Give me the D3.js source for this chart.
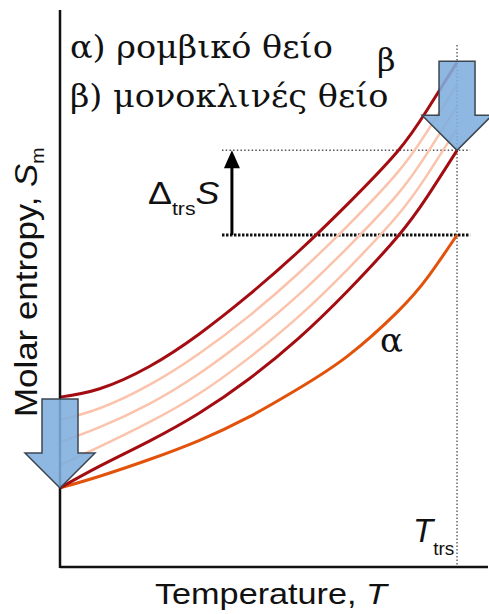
<!DOCTYPE html>
<html>
<head>
<meta charset="utf-8">
<script src="https://cdn.jsdelivr.net/npm/d3@7"></script>
<style>
  body { margin: 0; background: #fff; }
  svg { display: block; }
</style>
</head>
<body>
<svg id="svg" width="489" height="614"></svg>
<script>
// temperature points (T_trs = 100) shared by all curves
var temps = [0, 10, 22.5, 35, 47.5, 60, 72.5, 85, 92.5, 100];
// molar entropy of the two phases
var betaUpper = [30.5, 32.0, 36.0, 41.8, 48.8, 56.6, 65.2, 74.6, 82.1, 90.6];
var betaLight1 = [26.4, 28.5, 32.7, 38.3, 45.0, 52.7, 61.3, 70.8, 78.2, 86.6];
var betaLight2 = [22.4, 25.1, 29.3, 34.7, 41.3, 48.8, 57.4, 66.9, 74.3, 82.7];
var betaLight3 = [18.3, 21.6, 26.0, 31.1, 37.5, 44.9, 53.5, 63.1, 70.4, 78.7];
var betaLower = [14.2, 18.1, 22.6, 27.6, 33.7, 41.0, 49.6, 59.3, 66.5, 74.8];
var alphaS = [14.2, 16.3, 19.3, 22.7, 26.9, 32.0, 37.9, 45.8, 51.9, 59.6];

var legendLines = ["α) ρομβικό θείο", "β) μονοκλινές θείο"];
var tTrs = 100;

var sans = "'Liberation Sans', Arial, sans-serif";
var serif = "'DejaVu Serif', serif";

var svg = d3.select("#svg");

var xScale = d3.scaleLinear().domain([0, 107.8]).range([60, 488]);
var yScale = d3.scaleLinear().domain([0, 100]).range([567, 10]);

function pts(vals) {
  return vals.map(function (v, i) { return [temps[i], v]; });
}

var line = d3.line()
  .x(function (d) { return xScale(d[0]); })
  .y(function (d) { return yScale(d[1]); })
  .curve(d3.curveNatural);

// dotted guide lines
var sHigh = betaLower[betaLower.length - 1];
var sLow = alphaS[alphaS.length - 1];

svg.append("line")
  .attr("x1", xScale(tTrs)).attr("x2", xScale(tTrs))
  .attr("y1", yScale(93.7)).attr("y2", yScale(0))
  .attr("stroke", "#666").attr("stroke-width", 1.5)
  .attr("stroke-dasharray", "1.5,2");

svg.append("line")
  .attr("x1", xScale(40.8)).attr("x2", xScale(103.3))
  .attr("y1", yScale(sHigh)).attr("y2", yScale(sHigh))
  .attr("stroke", "#555").attr("stroke-width", 1.5)
  .attr("stroke-dasharray", "1.5,2.2");

svg.append("line")
  .attr("x1", xScale(40.8)).attr("x2", xScale(103.3))
  .attr("y1", yScale(sLow)).attr("y2", yScale(sLow))
  .attr("stroke", "#111").attr("stroke-width", 3)
  .attr("stroke-dasharray", "2.5,1.5");

// curves
var lightCurves = [betaLight1, betaLight2, betaLight3];
svg.append("g").selectAll("path")
  .data(lightCurves)
  .enter()
  .append("path")
  .attr("d", function (d) { return line(pts(d)); })
  .attr("fill", "none")
  .attr("stroke", "#fbc3ab")
  .attr("stroke-width", 2.5);

svg.append("path")
  .attr("d", line(pts(alphaS)))
  .attr("fill", "none")
  .attr("stroke", "#e2520a")
  .attr("stroke-width", 3);

svg.append("g").selectAll("path")
  .data([betaUpper, betaLower])
  .enter()
  .append("path")
  .attr("d", function (d) { return line(pts(d)); })
  .attr("fill", "none")
  .attr("stroke", "#a30d12")
  .attr("stroke-width", 3);

// axes
svg.append("line")
  .attr("x1", xScale(0)).attr("x2", xScale(0))
  .attr("y1", yScale(100)).attr("y2", yScale(0) + 1)
  .attr("stroke", "#111").attr("stroke-width", 2.5);
svg.append("line")
  .attr("x1", xScale(0)).attr("x2", xScale(107.8))
  .attr("y1", yScale(0)).attr("y2", yScale(0))
  .attr("stroke", "#111").attr("stroke-width", 2.5);

// block arrows (tip at the given point)
function blockArrow(tx, ty) {
  var shaft = 18, head = 35, len = 89, headLen = 35;
  var p = [
    [tx - shaft, ty - len], [tx + shaft, ty - len], [tx + shaft, ty - headLen],
    [tx + head, ty - headLen], [tx, ty], [tx - head, ty - headLen],
    [tx - shaft, ty - headLen]
  ];
  svg.append("path")
    .attr("d", "M" + p.join("L") + "Z")
    .attr("fill", "#7eaedd")
    .attr("fill-opacity", 0.88)
    .attr("stroke", "#3d4650")
    .attr("stroke-width", 1.5);
}
blockArrow(xScale(0), yScale(betaLower[0]));
blockArrow(xScale(tTrs), yScale(sHigh));

// delta S arrow
var ax = xScale(43.3);
svg.append("line")
  .attr("x1", ax).attr("x2", ax)
  .attr("y1", yScale(sLow)).attr("y2", yScale(sHigh) + 14)
  .attr("stroke", "#000").attr("stroke-width", 3);
svg.append("path")
  .attr("d", "M" + ax + "," + yScale(sHigh) + "L" + (ax + 8) + "," + (yScale(sHigh) + 18) +
    "L" + (ax - 8) + "," + (yScale(sHigh) + 18) + "Z")
  .attr("fill", "#000");

// the source art is a little wider than the fonts, so text gets a scaleX
var dS = svg.append("text")
  .style("font-family", sans)
  .attr("transform", "translate(148,204) scale(1.12,1)")
  .attr("font-size", 32).attr("fill", "#111");
dS.append("tspan").text("Δ");
dS.append("tspan").attr("font-size", 19).attr("dy", 11).text("trs");
dS.append("tspan").attr("font-style", "italic").attr("dy", -11).text("S");

// legend text
svg.append("g").selectAll("text")
  .data(legendLines)
  .enter()
  .append("text")
  .style("font-family", serif)
  .attr("transform", function (d, i) {
    return "translate(70," + (58 + i * 49) + ") scale(1.08,1)";
  })
  .attr("font-size", 31)
  .attr("fill", "#111")
  .text(function (d) { return d; });

svg.append("text")
  .style("font-family", serif)
  .attr("x", 377).attr("y", 71)
  .attr("font-size", 32).attr("fill", "#111")
  .text("β");
svg.append("text")
  .style("font-family", serif)
  .attr("x", 380).attr("y", 352)
  .attr("font-size", 34).attr("fill", "#111")
  .text("α");

// T_trs label
var tt = svg.append("text")
  .style("font-family", sans)
  .attr("x", 413).attr("y", 542)
  .attr("font-size", 33).attr("fill", "#111");
tt.append("tspan").attr("font-style", "italic").text("T");
tt.append("tspan").attr("font-size", 19).attr("dy", 13).text("trs");

// axis titles
var xt = svg.append("text")
  .style("font-family", sans)
  .attr("transform", "translate(155,604) scale(1.18,1)")
  .attr("font-size", 29).attr("fill", "#111");
xt.append("tspan").text("Temperature, ");
xt.append("tspan").attr("font-style", "italic").text("T");

var yt = svg.append("text")
  .style("font-family", sans)
  .attr("transform", "translate(37,417) rotate(-90) scale(1.09,1)")
  .attr("font-size", 32).attr("fill", "#111");
yt.append("tspan").text("Molar entropy, ");
yt.append("tspan").attr("font-style", "italic").text("S");
yt.append("tspan").attr("font-size", 18).attr("dy", 7).text("m");
</script>
</body>
</html>
